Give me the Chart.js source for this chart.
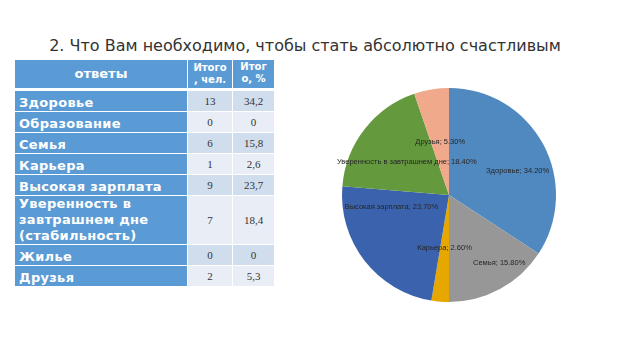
<!DOCTYPE html>
<html>
<head>
<meta charset="utf-8">
<script src="https://cdn.jsdelivr.net/npm/chart.js@4.4.1/dist/chart.umd.min.js"></script>
<style>
  html, body { margin: 0; padding: 0; background: #fff; }
  #page { position: relative; width: 640px; height: 360px; overflow: hidden; }
  #title {
    position: absolute; left: 0; top: 36px; width: 610px; text-align: center;
    font: 16px "DejaVu Sans", sans-serif; color: #333; white-space: nowrap;
  }
  #tbl {
    position: absolute; left: 14px; top: 59px;
    border-collapse: collapse; table-layout: fixed;
  }
  #tbl td, #tbl th { border: 1px solid #fff; padding: 0; }
  #tbl th {
    background: #5b9bd5; color: #fff; font: bold 10px "DejaVu Sans", sans-serif;
    height: 27px; border-bottom: 3px solid #fff; line-height: 12px;
  }
  #tbl th.first { font-size: 13px; }
  #tbl td.lab {
    background: #5b9bd5; color: #fff; font: bold 13px "DejaVu Sans", sans-serif;
    vertical-align: bottom; padding-left: 4px; line-height: 16px; height: 20px;
    letter-spacing: 0.3px;
  }
  #tbl td.num {
    text-align: center; font: 11px "Liberation Serif", serif; color: #333;
    vertical-align: middle;
  }
  #tbl tr.dark td.num { background: #cfdded; }
  #tbl tr.light td.num { background: #e9eef6; }
  #wrap { position: absolute; left: 322px; top: 78px; width: 254px; height: 234px; }
</style>
</head>
<body>
<div id="page">
  <div id="title">2. Что Вам необходимо, чтобы стать абсолютно счастливым</div>
  <table id="tbl">
    <colgroup><col style="width:173px"><col style="width:45px"><col style="width:42px"></colgroup>
    <thead><tr id="head"></tr></thead>
    <tbody id="body"></tbody>
  </table>
  <div id="wrap"><canvas id="myChart" width="254" height="234"></canvas></div>
</div>
<script>
// данные опроса
const headers = ['ответы', 'Итого, чел.', 'Итого, %'];
const answers = ['Здоровье', 'Образование', 'Семья', 'Карьера', 'Высокая зарплата',
  'Уверенность в завтрашнем дне (стабильность)', 'Жилье', 'Друзья'];
const pieLabels = ['Здоровье', 'Образование', 'Семья', 'Карьера', 'Высокая зарплата',
  'Уверенность в завтрашнем дне', 'Жилье', 'Друзья'];
const counts = [13, 0, 6, 1, 9, 7, 0, 2];
const percents = [34.2, 0, 15.8, 2.6, 23.7, 18.4, 0, 5.3];

const colors = ['#4f89c0', '#7aa7d6', '#979797', '#e6a800', '#3b63ad', '#64993e', '#8fb4dc', '#f0a98a'];

// таблица
const head = document.getElementById('head');
head.innerHTML = '<th class="first">' + headers[0] + '</th>' +
  '<th>Итого<br>, чел.</th>' +
  '<th style="vertical-align:top;padding-top:1px">Итог<br>о, %</th>';
const body = document.getElementById('body');
answers.forEach((a, i) => {
  const tr = document.createElement('tr');
  tr.className = i % 2 === 0 ? 'dark' : 'light';
  tr.innerHTML = '<td class="lab">' + a + '</td>' +
    '<td class="num">' + counts[i] + '</td>' +
    '<td class="num">' + String(percents[i]).replace('.', ',') + '</td>';
  body.appendChild(tr);
});

// подписи внутри секторов: сдвиг угла (град) и доля радиуса
const labelTweak = [[9, 0.68], [0, 0.5], [-8, 0.79], [0, 0.5], [26, 0.55], [0, 0.5], [0, 0.5], [0, 0.5]];

const sliceLabels = {
  id: 'sliceLabels',
  afterDatasetsDraw(chart) {
    const ctx = chart.ctx;
    const meta = chart.getDatasetMeta(0);
    ctx.save();
    ctx.font = '7.5px "Liberation Sans", sans-serif';
    ctx.fillStyle = '#262626';
    ctx.textAlign = 'center';
    ctx.textBaseline = 'middle';
    meta.data.forEach((arc, i) => {
      if (!counts[i]) return;
      const p = arc.getProps(['x', 'y', 'startAngle', 'endAngle', 'outerRadius'], true);
      const a = (p.startAngle + p.endAngle) / 2 + labelTweak[i][0] * Math.PI / 180;
      const r = p.outerRadius * labelTweak[i][1];
      const txt = pieLabels[i] + '; ' + percents[i].toFixed(2) + '%';
      ctx.fillText(txt, p.x + Math.cos(a) * r, p.y + Math.sin(a) * r);
    });
    ctx.restore();
  }
};

new Chart(document.getElementById('myChart'), {
  type: 'pie',
  data: {
    labels: pieLabels,
    datasets: [{
      data: counts,
      backgroundColor: colors,
      borderWidth: 0
    }]
  },
  options: {
    responsive: false,
    animation: false,
    layout: { padding: { left: 20, right: 20, top: 10, bottom: 10 } },
    plugins: {
      legend: { display: false },
      tooltip: { enabled: false }
    }
  },
  plugins: [sliceLabels]
});
</script>
</body>
</html>
